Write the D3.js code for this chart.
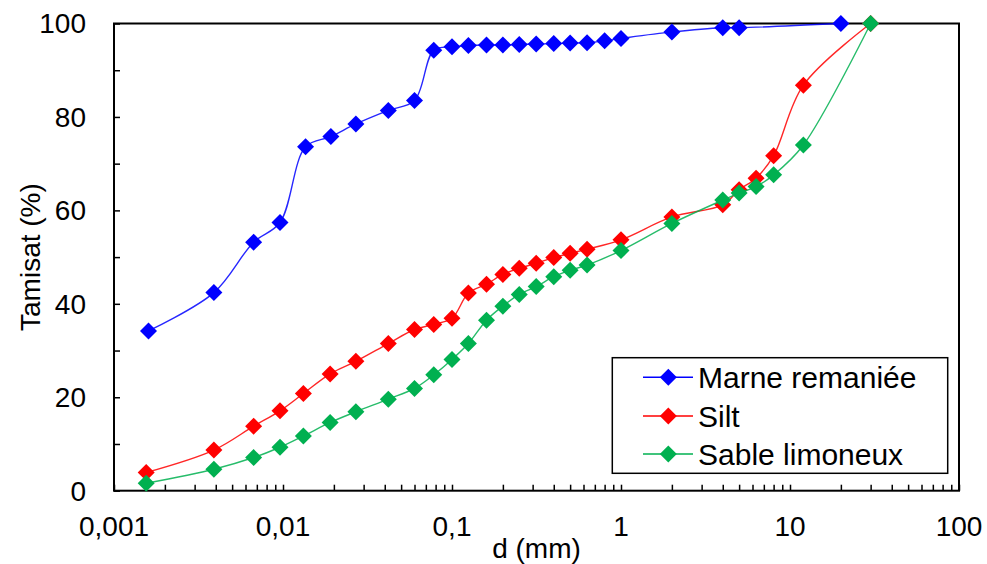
<!DOCTYPE html>
<html>
<head>
<meta charset="utf-8">
<script src="https://cdn.jsdelivr.net/npm/d3@7"></script>
<style>
  html, body { margin: 0; padding: 0; background: #fff; }
  svg { display: block; font-family: "Liberation Sans", Arial, sans-serif; }
</style>
</head>
<body>
<div id="chart"></div>
<script>
// ---- Data ----
const seriesNames = ["Marne remaniée", "Silt", "Sable limoneux"];
const seriesColors = ["#0000FF", "#FF0000", "#00B050"];

const xMarne = [0.0016, 0.0039, 0.0067, 0.0096, 0.0136, 0.0192, 0.027, 0.042, 0.06, 0.078,
                0.1, 0.125, 0.16, 0.2, 0.25, 0.315, 0.4, 0.5, 0.63, 0.8, 1, 2, 4, 5, 20];
const yMarne = [34.2, 42.4, 53.2, 57.4, 73.6, 75.8, 78.5, 81.4, 83.5, 94.3,
                95.0, 95.3, 95.4, 95.4, 95.5, 95.6, 95.7, 95.8, 95.9, 96.3, 96.8, 98.2, 99.1, 99.1, 100];

const xSol = [0.00155, 0.0039, 0.0067, 0.0096, 0.0132, 0.019, 0.027, 0.042, 0.06, 0.078,
              0.1, 0.125, 0.16, 0.2, 0.25, 0.315, 0.4, 0.5, 0.63, 1, 2, 4, 5, 6.3, 8, 12, 30];
const ySilt = [3.9, 8.7, 13.8, 17.1, 20.8, 25.0, 27.7, 31.5, 34.5, 35.6,
               36.9, 42.3, 44.2, 46.3, 47.6, 48.7, 49.9, 50.8, 51.7, 53.7, 58.6, 61.2, 64.4, 66.9, 71.7, 86.8, 100];
const ySable = [1.6, 4.6, 7.1, 9.3, 11.7, 14.6, 16.9, 19.6, 21.9, 24.8,
                28.1, 31.5, 36.5, 39.5, 42.0, 43.7, 45.8, 47.2, 48.3, 51.4, 57.2, 62.2, 63.7, 65.1, 67.6, 74.0, 100];

const xTickValues = [0.001, 0.01, 0.1, 1, 10, 100];
const xTickLabels = ["0,001", "0,01", "0,1", "1", "10", "100"];
const yTickValues = [0, 20, 40, 60, 80, 100];
const xTitle = "d (mm)";
const yTitle = "Tamisat (%)";

// ---- Layout ----
const W = 987, H = 564;
const m = { left: 114, top: 23.5, right: 959, bottom: 490.7 };

const svg = d3.select("#chart").append("svg").attr("width", W).attr("height", H);

const x = d3.scaleLog().domain([0.001, 100]).range([m.left, m.right]);
const y = d3.scaleLinear().domain([0, 100]).range([m.bottom, m.top]);

// minor ticks
const xMinor = [];
for (let e = -3; e < 2; e++) for (let k = 1; k <= 9; k++) xMinor.push(k * Math.pow(10, e));
xMinor.push(100);
const yMinor = d3.range(0, 101, 10);

// x axis (ticks inward)
const gx = svg.append("g").attr("transform", `translate(0,${m.bottom})`)
  .call(d3.axisTop(x).tickValues(xMinor).tickSize(6).tickFormat(""));
gx.select(".domain").remove();
gx.selectAll("line").attr("stroke", "#000").attr("stroke-width", 1.5);

svg.append("g").selectAll("text").data(xTickValues).join("text")
  .attr("x", d => x(d)).attr("y", 536)
  .attr("text-anchor", "middle").attr("font-size", 28).attr("fill", "#000")
  .text((d, i) => xTickLabels[i]);

// y axis (ticks inward)
const gy = svg.append("g").attr("transform", `translate(${m.left},0)`)
  .call(d3.axisRight(y).tickValues(yMinor).tickSize(6).tickFormat(""));
gy.select(".domain").remove();
gy.selectAll("line").attr("stroke", "#000").attr("stroke-width", 1.5);

svg.append("g").selectAll("text").data(yTickValues).join("text")
  .attr("x", 86).attr("y", d => y(d)).attr("dy", "0.35em")
  .attr("text-anchor", "end").attr("font-size", 28).attr("fill", "#000")
  .text(d => d);

// frame
svg.append("rect").attr("x", m.left).attr("y", m.top)
  .attr("width", m.right - m.left).attr("height", m.bottom - m.top)
  .attr("fill", "none").attr("stroke", "#000").attr("stroke-width", 2);

// axis titles
svg.append("text").attr("x", (m.left + m.right) / 2).attr("y", 558)
  .attr("text-anchor", "middle").attr("font-size", 28).attr("fill", "#000").text(xTitle);
svg.append("text").attr("transform", `translate(40,${(m.top + m.bottom) / 2}) rotate(-90)`)
  .attr("text-anchor", "middle").attr("font-size", 28).attr("fill", "#000").text(yTitle);

// series
const series = [
  { name: seriesNames[0], color: seriesColors[0], xs: xMarne, ys: yMarne },
  { name: seriesNames[1], color: seriesColors[1], xs: xSol, ys: ySilt },
  { name: seriesNames[2], color: seriesColors[2], xs: xSol, ys: ySable }
];

const diamond = r => `M0,${-r}L${r},0L0,${r}L${-r},0Z`;
const line = d3.line().x(d => x(d[0])).y(d => y(d[1])).curve(d3.curveCatmullRom.alpha(0.5));

series.forEach(s => {
  const pts = s.xs.map((v, i) => [v, s.ys[i]]);
  const g = svg.append("g");
  g.append("path").attr("d", line(pts)).attr("fill", "none")
    .attr("stroke", s.color).attr("stroke-width", 1.4).attr("stroke-opacity", 0.85);
  g.selectAll("path.mk").data(pts).join("path").attr("class", "mk")
    .attr("transform", d => `translate(${x(d[0])},${y(d[1])})`)
    .attr("d", diamond(8.5)).attr("fill", s.color);
});

// legend
const lg = svg.append("g");
lg.append("rect").attr("x", 612.3).attr("y", 357.7).attr("width", 335.4).attr("height", 115.6)
  .attr("fill", "#fff").attr("stroke", "#000").attr("stroke-width", 1.5);
const rows = [377.3, 416, 454];
series.forEach((s, i) => {
  lg.append("line").attr("x1", 643).attr("x2", 693).attr("y1", rows[i]).attr("y2", rows[i])
    .attr("stroke", s.color).attr("stroke-width", 1.4);
  lg.append("path").attr("transform", `translate(668.3,${rows[i]})`).attr("d", diamond(8.5)).attr("fill", s.color);
  lg.append("text").attr("x", 698).attr("y", rows[i]).attr("dy", "0.35em")
    .attr("font-size", 30).attr("fill", "#000").text(s.name);
});
</script>
</body>
</html>
